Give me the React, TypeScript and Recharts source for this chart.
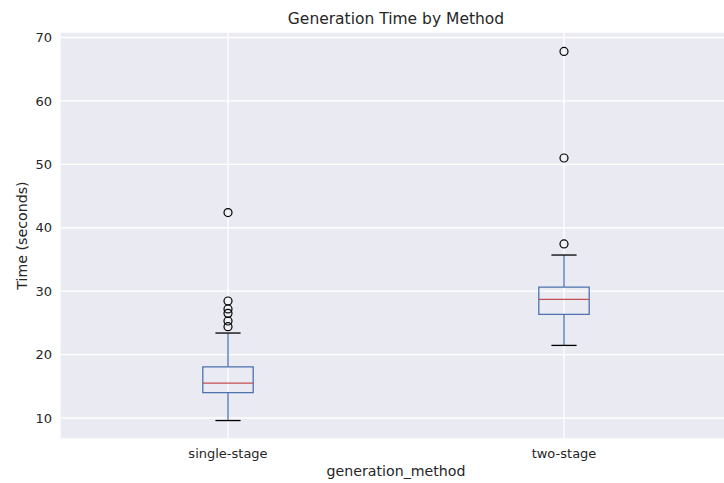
import {
  CartesianGrid,
  ComposedChart,
  Customized,
  ReferenceArea,
  ReferenceLine,
  Scatter,
  XAxis,
  YAxis,
} from 'recharts'

const methods = ['single-stage', 'two-stage']
const positions = [1, 2]
const whiskerLow = [9.6, 21.45]
const q1 = [14.0, 26.35]
const medians = [15.5, 28.7]
const q3 = [18.05, 30.65]
const whiskerHigh = [23.4, 35.7]
const outliers = [
  [42.4, 28.45, 27.2, 26.5, 25.3, 24.4],
  [67.8, 51.0, 37.45],
]
const yTicks = [10, 20, 30, 40, 50, 60, 70]

const BLUE = '#4C72B0'
const RED = '#C44E52'
const TEXT = '#262626'
const FONT = 'DejaVu Sans, sans-serif'

const BOX_HALF = 0.075
const CAP_HALF = 0.0375

const outlierData = outliers.flatMap((vals, i) =>
  vals.map((y) => ({ x: positions[i], y })),
)

function Labels() {
  return (
    <g fontFamily={FONT} fill={TEXT}>
      <text x={396} y={24} textAnchor="middle" fontSize={15.5}>
        Generation Time by Method
      </text>
      <text x={396} y={476} textAnchor="middle" fontSize={14.2}>
        generation_method
      </text>
      <text
        x={27}
        y={235.5}
        textAnchor="middle"
        fontSize={14.2}
        transform="rotate(-90 27 235.5)"
      >
        Time (seconds)
      </text>
    </g>
  )
}

function OutlierDot(props: any) {
  const { cx, cy } = props
  return <circle cx={cx} cy={cy} r={4} fill="none" stroke="#000" strokeWidth={1.2} />
}

export default function App() {
  return (
    <div
      style={{
        position: 'fixed',
        left: 0,
        top: 0,
        width: 724,
        height: 483,
        overflow: 'hidden',
        background: '#fff',
      }}
    >
      <ComposedChart
        width={740}
        height={483}
        margin={{ top: 32, right: 8, bottom: 0, left: 0 }}
      >
        <CartesianGrid fill="#EAEAF2" stroke="#fff" strokeWidth={1.3} />
        <XAxis
          type="number"
          dataKey="x"
          domain={[0.5, 2.5]}
          ticks={positions}
          tickFormatter={(v: number) => methods[positions.indexOf(v)] ?? ''}
          axisLine={false}
          tickLine={false}
          tickMargin={4}
          height={44}
          tick={{ fill: TEXT, fontSize: 13, fontFamily: FONT }}
          allowDataOverflow
        />
        <YAxis
          type="number"
          dataKey="y"
          domain={[6.69, 70.87]}
          ticks={yTicks}
          axisLine={false}
          tickLine={false}
          width={60}
          tick={{ fill: TEXT, fontSize: 13, fontFamily: FONT }}
          allowDataOverflow
        />
        {positions.map((p, i) => (
          <ReferenceLine
            key={`wl${i}`}
            segment={[
              { x: p, y: whiskerLow[i] },
              { x: p, y: q1[i] },
            ]}
            stroke={BLUE}
            strokeWidth={1.3}
          />
        ))}
        {positions.map((p, i) => (
          <ReferenceLine
            key={`wh${i}`}
            segment={[
              { x: p, y: q3[i] },
              { x: p, y: whiskerHigh[i] },
            ]}
            stroke={BLUE}
            strokeWidth={1.3}
          />
        ))}
        {positions.map((p, i) => (
          <ReferenceArea
            key={`box${i}`}
            x1={p - BOX_HALF}
            x2={p + BOX_HALF}
            y1={q1[i]}
            y2={q3[i]}
            fill="none"
            fillOpacity={0}
            stroke={BLUE}
            strokeWidth={1.3}
            strokeOpacity={1}
          />
        ))}
        {positions.map((p, i) => (
          <ReferenceLine
            key={`med${i}`}
            segment={[
              { x: p - BOX_HALF, y: medians[i] },
              { x: p + BOX_HALF, y: medians[i] },
            ]}
            stroke={RED}
            strokeWidth={1.3}
          />
        ))}
        {positions.map((p, i) => (
          <ReferenceLine
            key={`capl${i}`}
            segment={[
              { x: p - CAP_HALF, y: whiskerLow[i] },
              { x: p + CAP_HALF, y: whiskerLow[i] },
            ]}
            stroke="#000"
            strokeWidth={1.3}
          />
        ))}
        {positions.map((p, i) => (
          <ReferenceLine
            key={`caph${i}`}
            segment={[
              { x: p - CAP_HALF, y: whiskerHigh[i] },
              { x: p + CAP_HALF, y: whiskerHigh[i] },
            ]}
            stroke="#000"
            strokeWidth={1.3}
          />
        ))}
        <Scatter
          data={outlierData}
          dataKey="y"
          shape={<OutlierDot />}
          isAnimationActive={false}
        />
        <Customized component={<Labels />} />
      </ComposedChart>
    </div>
  )
}
